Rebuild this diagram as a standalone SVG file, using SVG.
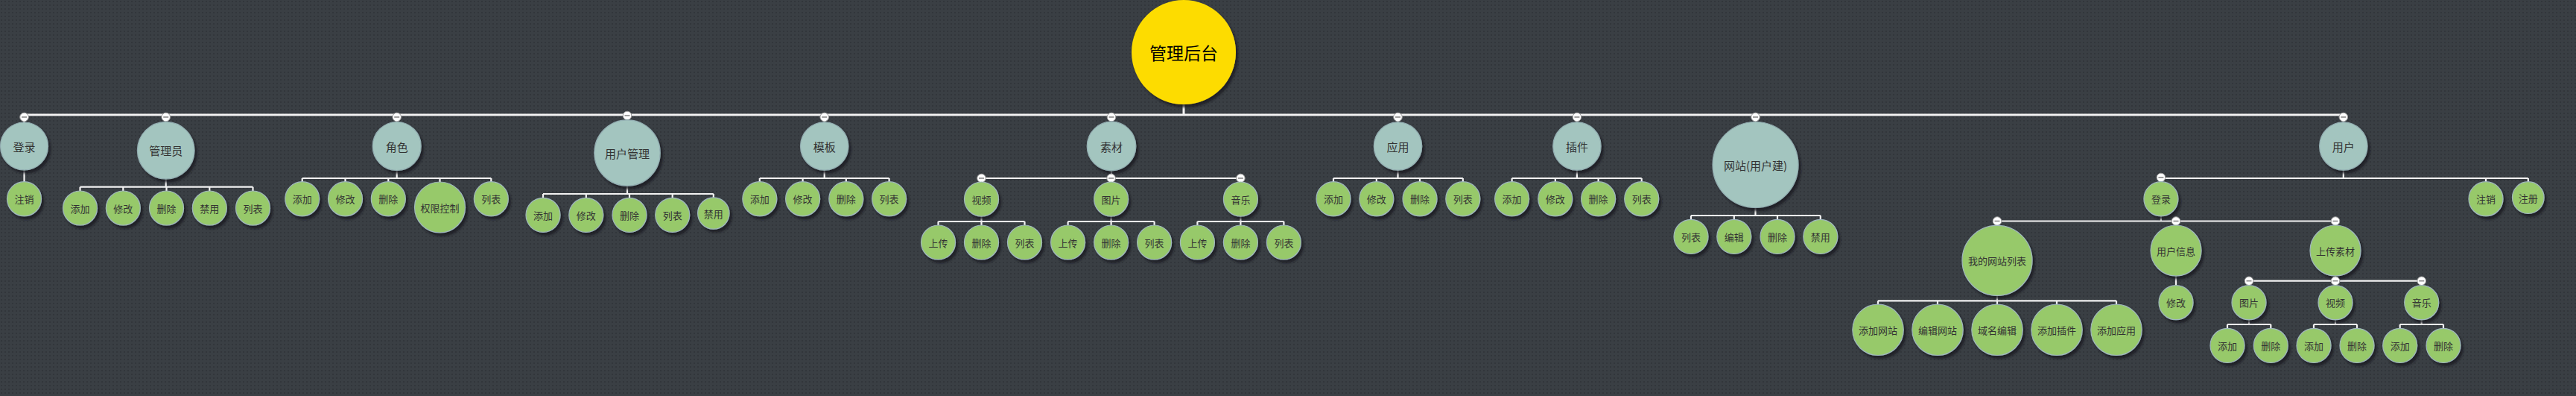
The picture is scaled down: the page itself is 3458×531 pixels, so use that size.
<svg xmlns="http://www.w3.org/2000/svg" xmlns:xlink="http://www.w3.org/1999/xlink" width="3458" height="531" viewBox="0 0 3458 531">
<style>
.t{fill:#a3c5bf;stroke:#93aeb2;stroke-width:1.2;filter:url(#sh)}
.g{fill:#97c96a;stroke:#9fb7bd;stroke-width:1.2;filter:url(#sh)}
.r{fill:#fddc00;filter:url(#sh)}
text{font-family:"Noto Sans CJK SC","Noto Sans",sans-serif;text-anchor:middle;dominant-baseline:central;fill:#333}
.lt{font-size:15px}
.lg{font-size:13px}
.lr{font-size:23px;fill:#000}
.c{fill:none;stroke:#f2f2f2;stroke-width:2.2}
.cm{fill:none;stroke:#f2f2f2;stroke-width:3}
</style>
<defs>
<pattern id="dots" width="5" height="5" patternUnits="userSpaceOnUse">
<rect width="5" height="5" fill="#3a3f44"/>
<rect x="1" y="1" width="2" height="2" fill="#32363b"/>
</pattern>
<filter id="sh" x="-20%" y="-20%" width="150%" height="150%">
<feDropShadow dx="3" dy="4" stdDeviation="1.5" flood-color="#1c1f22" flood-opacity="0.8"/>
</filter>
<g id="col">
<circle r="5.8" fill="#ffffff" stroke="#9a9a9a" stroke-width="1"/>
<line x1="-3.5" y1="0" x2="3.5" y2="0" stroke="#8a8a8a" stroke-width="1.6"/>
</g>
</defs>
<rect width="3458" height="531" fill="url(#dots)"/>

<g id="connectors">
<path class="cm" d="M1589 140V154M32.5 154H3145.8M32.5 154V164M222.7 154V163M532.7 154V164M842 154V161M1106.7 154V164M1492 154V163M1876.5 154V164M2116.9 154V164M2356.5 154V163.5M3145.8 154V164"/>
<path class="c" d="M32.5 228V243.7"/>
<path class="c" d="M222.7 240V250.7M107.5 250.7H339.5M107.5 250.7V256M165.3 250.7V256M223.5 250.7V256M281.3 250.7V256M339.5 250.7V256"/>
<path class="c" d="M532.7 228V239M405.7 239H659.3M405.7 239V244M463.5 239V244M521.3 239V244M590.5 239V244.3M659.3 239V244"/>
<path class="c" d="M842 249V260M729 260H957.8M729 260V265.3M786.8 260V265.3M845 260V265.3M902.7 260V265.3M957.8 260V265"/>
<path class="c" d="M1106.7 228V239M1019.8 239H1193.6M1019.8 239V244M1077.6 239V244M1135.8 239V244M1193.6 239V244"/>
<path class="c" d="M1492 229V239M1317.5 239H1665.4M1317.5 239V244M1491.6 239V244M1665.4 239V244"/>
<path class="c" d="M1317.5 290V297M1259.5 297H1375.5M1259.5 297V302M1317.5 297V302M1375.5 297V302"/>
<path class="c" d="M1491.6 290V297M1433.6 297H1549.6M1433.6 297V302M1491.6 297V302M1549.6 297V302"/>
<path class="c" d="M1665.4 290V297M1607.4 297H1723.4M1607.4 297V302M1665.4 297V302M1723.4 297V302"/>
<path class="c" d="M1876.5 228V239M1790 239H1963.8M1790 239V244M1847.8 239V244M1906 239V244M1963.8 239V244"/>
<path class="c" d="M2116.9 228V239M2029.6 239H2203.7M2029.6 239V244M2087.8 239V244M2145.6 239V244M2203.7 239V244"/>
<path class="c" d="M2356.5 278.5V289M2270 289H2443.8M2270 289V294.3M2327.8 289V294.3M2386 289V294.3M2443.8 289V294.3"/>
<path class="c" d="M3145.8 228V239M2900.9 239H3393.8M2900.9 239V243.7M3337 239V243.7M3393.8 239V244"/>
<path class="c" d="M2900.9 289.7V296.5M2681 296.5H3135M2681 296.5V302M2921 296.5V302M3135 296.5V302"/>
<path class="c" d="M2681 396.5V403.3M2521 403.3H2841M2521 403.3V408M2601 403.3V408M2681 403.3V408M2761 403.3V408M2841 403.3V408"/>
<path class="c" d="M2921 370V382.7"/>
<path class="c" d="M3135 370V376.7M3019 376.7H3250.7M3019 376.7V382.7M3135 376.7V382.7M3250.7 376.7V382.7"/>
<path class="c" d="M3019 428.7V435M2990 435H3048.3M2990 435V440.3M3048.3 435V440.3"/>
<path class="c" d="M3135 428.7V435M3106 435H3164M3106 435V440.3M3164 435V440.3"/>
<path class="c" d="M3250.7 428.7V435M3221.7 435H3280M3221.7 435V440.3M3280 435V440.3"/>
</g>

<g id="root"><circle class="r" cx="1589" cy="70" r="70"/><text class="lr" x="1589" y="70">管理后台</text></g>

<g id="n-login"><use xlink:href="#col" x="32.5" y="157"/><circle class="t" cx="32.5" cy="196" r="32"/><text class="lt" x="32.5" y="196">登录</text></g>
<g id="n-login-logout"><circle class="g" cx="32.5" cy="266.7" r="23"/><text class="lg" x="32.5" y="266.7">注销</text></g>

<g id="n-admin"><use xlink:href="#col" x="222.7" y="157"/><circle class="t" cx="222.7" cy="201.7" r="38.3"/><text class="lt" x="222.7" y="201.7">管理员</text></g>
<g id="n-admin-add"><circle class="g" cx="107.5" cy="279" r="23"/><text class="lg" x="107.5" y="279">添加</text></g>
<g id="n-admin-edit"><circle class="g" cx="165.3" cy="279" r="23"/><text class="lg" x="165.3" y="279">修改</text></g>
<g id="n-admin-del"><circle class="g" cx="223.5" cy="279" r="23"/><text class="lg" x="223.5" y="279">删除</text></g>
<g id="n-admin-ban"><circle class="g" cx="281.3" cy="279" r="23"/><text class="lg" x="281.3" y="279">禁用</text></g>
<g id="n-admin-list"><circle class="g" cx="339.5" cy="279" r="23"/><text class="lg" x="339.5" y="279">列表</text></g>

<g id="n-role"><use xlink:href="#col" x="532.7" y="157"/><circle class="t" cx="532.7" cy="196" r="32.5"/><text class="lt" x="532.7" y="196">角色</text></g>
<g id="n-role-add"><circle class="g" cx="405.7" cy="266.7" r="23"/><text class="lg" x="405.7" y="266.7">添加</text></g>
<g id="n-role-edit"><circle class="g" cx="463.5" cy="266.7" r="23"/><text class="lg" x="463.5" y="266.7">修改</text></g>
<g id="n-role-del"><circle class="g" cx="521.3" cy="266.7" r="23"/><text class="lg" x="521.3" y="266.7">删除</text></g>
<g id="n-role-perm"><circle class="g" cx="590.5" cy="278" r="34"/><text class="lg" x="590.5" y="278">权限控制</text></g>
<g id="n-role-list"><circle class="g" cx="659.3" cy="266.7" r="23"/><text class="lg" x="659.3" y="266.7">列表</text></g>

<g id="n-usermgr"><use xlink:href="#col" x="842" y="155"/><circle class="t" cx="842" cy="205" r="44.2"/><text class="lt" x="842" y="205">用户管理</text></g>
<g id="n-usermgr-add"><circle class="g" cx="729" cy="288.3" r="23"/><text class="lg" x="729" y="288.3">添加</text></g>
<g id="n-usermgr-edit"><circle class="g" cx="786.8" cy="288.3" r="23"/><text class="lg" x="786.8" y="288.3">修改</text></g>
<g id="n-usermgr-del"><circle class="g" cx="845" cy="288.3" r="23"/><text class="lg" x="845" y="288.3">删除</text></g>
<g id="n-usermgr-list"><circle class="g" cx="902.7" cy="288.3" r="23"/><text class="lg" x="902.7" y="288.3">列表</text></g>
<g id="n-usermgr-ban"><circle class="g" cx="957.8" cy="286" r="21.2"/><text class="lg" x="957.8" y="286">禁用</text></g>

<g id="n-tpl"><use xlink:href="#col" x="1106.7" y="157"/><circle class="t" cx="1106.7" cy="196" r="32.2"/><text class="lt" x="1106.7" y="196">模板</text></g>
<g id="n-tpl-add"><circle class="g" cx="1019.8" cy="266.7" r="23"/><text class="lg" x="1019.8" y="266.7">添加</text></g>
<g id="n-tpl-edit"><circle class="g" cx="1077.6" cy="266.7" r="23"/><text class="lg" x="1077.6" y="266.7">修改</text></g>
<g id="n-tpl-del"><circle class="g" cx="1135.8" cy="266.7" r="23"/><text class="lg" x="1135.8" y="266.7">删除</text></g>
<g id="n-tpl-list"><circle class="g" cx="1193.6" cy="266.7" r="23"/><text class="lg" x="1193.6" y="266.7">列表</text></g>

<g id="n-media"><use xlink:href="#col" x="1492" y="157"/><circle class="t" cx="1492" cy="196" r="32.8"/><text class="lt" x="1492" y="196">素材</text></g>
<g id="n-media-video"><use xlink:href="#col" x="1317.5" y="239"/><circle class="g" cx="1317.5" cy="267" r="23"/><text class="lg" x="1317.5" y="267">视频</text></g>
<g id="n-media-video-up"><circle class="g" cx="1259.5" cy="325" r="23"/><text class="lg" x="1259.5" y="325">上传</text></g>
<g id="n-media-video-del"><circle class="g" cx="1317.5" cy="325" r="23"/><text class="lg" x="1317.5" y="325">删除</text></g>
<g id="n-media-video-list"><circle class="g" cx="1375.5" cy="325" r="23"/><text class="lg" x="1375.5" y="325">列表</text></g>
<g id="n-media-img"><use xlink:href="#col" x="1491.6" y="239"/><circle class="g" cx="1491.6" cy="267" r="23"/><text class="lg" x="1491.6" y="267">图片</text></g>
<g id="n-media-img-up"><circle class="g" cx="1433.6" cy="325" r="23"/><text class="lg" x="1433.6" y="325">上传</text></g>
<g id="n-media-img-del"><circle class="g" cx="1491.6" cy="325" r="23"/><text class="lg" x="1491.6" y="325">删除</text></g>
<g id="n-media-img-list"><circle class="g" cx="1549.6" cy="325" r="23"/><text class="lg" x="1549.6" y="325">列表</text></g>
<g id="n-media-music"><use xlink:href="#col" x="1665.4" y="239"/><circle class="g" cx="1665.4" cy="267" r="23"/><text class="lg" x="1665.4" y="267">音乐</text></g>
<g id="n-media-music-up"><circle class="g" cx="1607.4" cy="325" r="23"/><text class="lg" x="1607.4" y="325">上传</text></g>
<g id="n-media-music-del"><circle class="g" cx="1665.4" cy="325" r="23"/><text class="lg" x="1665.4" y="325">删除</text></g>
<g id="n-media-music-list"><circle class="g" cx="1723.4" cy="325" r="23"/><text class="lg" x="1723.4" y="325">列表</text></g>

<g id="n-app"><use xlink:href="#col" x="1876.5" y="157"/><circle class="t" cx="1876.5" cy="196" r="32.2"/><text class="lt" x="1876.5" y="196">应用</text></g>
<g id="n-app-add"><circle class="g" cx="1790" cy="266.7" r="23"/><text class="lg" x="1790" y="266.7">添加</text></g>
<g id="n-app-edit"><circle class="g" cx="1847.8" cy="266.7" r="23"/><text class="lg" x="1847.8" y="266.7">修改</text></g>
<g id="n-app-del"><circle class="g" cx="1906" cy="266.7" r="23"/><text class="lg" x="1906" y="266.7">删除</text></g>
<g id="n-app-list"><circle class="g" cx="1963.8" cy="266.7" r="23"/><text class="lg" x="1963.8" y="266.7">列表</text></g>

<g id="n-plugin"><use xlink:href="#col" x="2116.9" y="157"/><circle class="t" cx="2116.9" cy="196" r="32.2"/><text class="lt" x="2116.9" y="196">插件</text></g>
<g id="n-plugin-add"><circle class="g" cx="2029.6" cy="266.7" r="23"/><text class="lg" x="2029.6" y="266.7">添加</text></g>
<g id="n-plugin-edit"><circle class="g" cx="2087.8" cy="266.7" r="23"/><text class="lg" x="2087.8" y="266.7">修改</text></g>
<g id="n-plugin-del"><circle class="g" cx="2145.6" cy="266.7" r="23"/><text class="lg" x="2145.6" y="266.7">删除</text></g>
<g id="n-plugin-list"><circle class="g" cx="2203.7" cy="266.7" r="23"/><text class="lg" x="2203.7" y="266.7">列表</text></g>

<g id="n-site"><use xlink:href="#col" x="2356.5" y="157"/><circle class="t" cx="2356.5" cy="221" r="57.5"/><text class="lt" x="2356.5" y="221">网站(用户建)</text></g>
<g id="n-site-list"><circle class="g" cx="2270" cy="317.3" r="23"/><text class="lg" x="2270" y="317.3">列表</text></g>
<g id="n-site-edit"><circle class="g" cx="2327.8" cy="317.3" r="23"/><text class="lg" x="2327.8" y="317.3">编辑</text></g>
<g id="n-site-del"><circle class="g" cx="2386" cy="317.3" r="23"/><text class="lg" x="2386" y="317.3">删除</text></g>
<g id="n-site-ban"><circle class="g" cx="2443.8" cy="317.3" r="23"/><text class="lg" x="2443.8" y="317.3">禁用</text></g>

<g id="n-user"><use xlink:href="#col" x="3145.8" y="157"/><circle class="t" cx="3145.8" cy="196" r="32.2"/><text class="lt" x="3145.8" y="196">用户</text></g>
<g id="n-user-login"><use xlink:href="#col" x="2900.9" y="238"/><circle class="g" cx="2900.9" cy="266.7" r="23"/><text class="lg" x="2900.9" y="266.7">登录</text></g>
<g id="n-user-logout"><circle class="g" cx="3337" cy="266.7" r="23"/><text class="lg" x="3337" y="266.7">注销</text></g>
<g id="n-user-reg"><circle class="g" cx="3393.8" cy="265" r="21.3"/><text class="lg" x="3393.8" y="265">注册</text></g>

<g id="n-mysites"><use xlink:href="#col" x="2681" y="296.5"/><circle class="g" cx="2681" cy="349.3" r="47"/><text class="lg" x="2681" y="349.3">我的网站列表</text></g>
<g id="n-mysites-add"><circle class="g" cx="2521" cy="442.3" r="34.2"/><text class="lg" x="2521" y="442.3">添加网站</text></g>
<g id="n-mysites-edit"><circle class="g" cx="2601" cy="442.3" r="34.2"/><text class="lg" x="2601" y="442.3">编辑网站</text></g>
<g id="n-mysites-domain"><circle class="g" cx="2681" cy="442.3" r="34.2"/><text class="lg" x="2681" y="442.3">域名编辑</text></g>
<g id="n-mysites-plugin"><circle class="g" cx="2761" cy="442.3" r="34.2"/><text class="lg" x="2761" y="442.3">添加插件</text></g>
<g id="n-mysites-app"><circle class="g" cx="2841" cy="442.3" r="34.2"/><text class="lg" x="2841" y="442.3">添加应用</text></g>

<g id="n-userinfo"><use xlink:href="#col" x="2921" y="296.5"/><circle class="g" cx="2921" cy="336" r="34"/><text class="lg" x="2921" y="336">用户信息</text></g>
<g id="n-userinfo-edit"><circle class="g" cx="2921" cy="405.7" r="23"/><text class="lg" x="2921" y="405.7">修改</text></g>

<g id="n-upload"><use xlink:href="#col" x="3135" y="296.5"/><circle class="g" cx="3135" cy="336" r="34"/><text class="lg" x="3135" y="336">上传素材</text></g>
<g id="n-upload-img"><use xlink:href="#col" x="3019" y="376.7"/><circle class="g" cx="3019" cy="405.7" r="23"/><text class="lg" x="3019" y="405.7">图片</text></g>
<g id="n-upload-img-add"><circle class="g" cx="2990" cy="463.3" r="23"/><text class="lg" x="2990" y="463.3">添加</text></g>
<g id="n-upload-img-del"><circle class="g" cx="3048.3" cy="463.3" r="23"/><text class="lg" x="3048.3" y="463.3">删除</text></g>
<g id="n-upload-video"><use xlink:href="#col" x="3135" y="376.7"/><circle class="g" cx="3135" cy="405.7" r="23"/><text class="lg" x="3135" y="405.7">视频</text></g>
<g id="n-upload-video-add"><circle class="g" cx="3106" cy="463.3" r="23"/><text class="lg" x="3106" y="463.3">添加</text></g>
<g id="n-upload-video-del"><circle class="g" cx="3164" cy="463.3" r="23"/><text class="lg" x="3164" y="463.3">删除</text></g>
<g id="n-upload-music"><use xlink:href="#col" x="3250.7" y="376.7"/><circle class="g" cx="3250.7" cy="405.7" r="23"/><text class="lg" x="3250.7" y="405.7">音乐</text></g>
<g id="n-upload-music-add"><circle class="g" cx="3221.7" cy="463.3" r="23"/><text class="lg" x="3221.7" y="463.3">添加</text></g>
<g id="n-upload-music-del"><circle class="g" cx="3280" cy="463.3" r="23"/><text class="lg" x="3280" y="463.3">删除</text></g>
</svg>
